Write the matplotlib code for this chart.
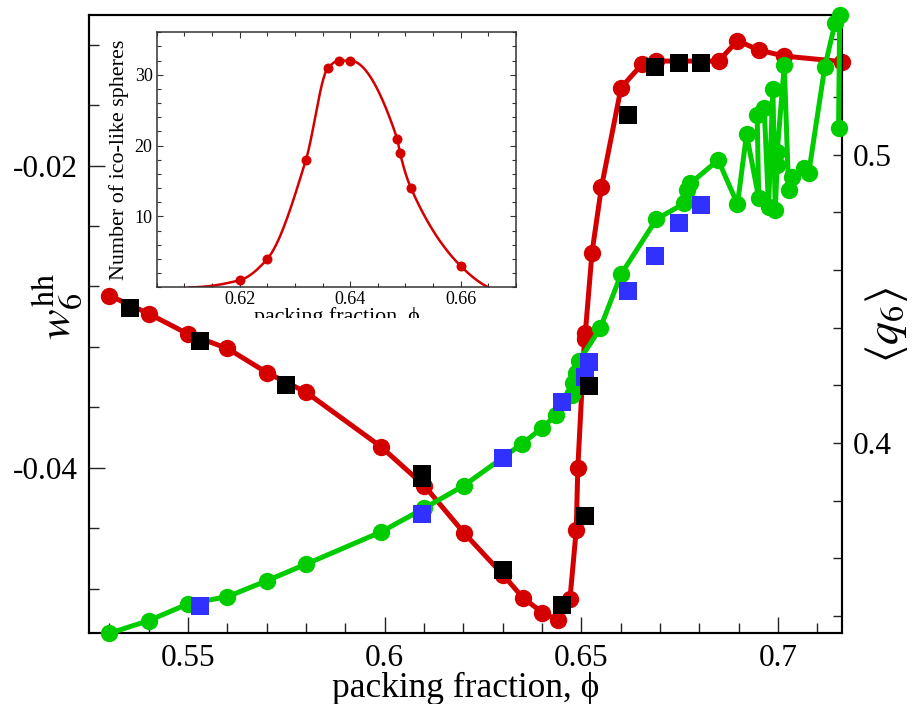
import numpy as np
import matplotlib
matplotlib.use("Agg")
import matplotlib.pyplot as plt
from matplotlib.ticker import MultipleLocator, FixedLocator, FuncFormatter
from matplotlib.transforms import Bbox, TransformedBbox

plt.rcParams['font.family'] = ['Liberation Serif', 'DejaVu Serif']
plt.rcParams['mathtext.fontset'] = 'stix'
plt.rcParams['axes.unicode_minus'] = False

# ---------------- data ----------------
# w6^hh (left axis), red circles with line
red_x = [0.530, 0.540, 0.550, 0.560, 0.570, 0.580, 0.599, 0.6101, 0.6201, 0.6301,
         0.6351, 0.6401, 0.6440, 0.6471, 0.6487, 0.6491, 0.6508, 0.6510, 0.6527,
         0.6551, 0.6601, 0.6654, 0.6691, 0.6849, 0.6897, 0.6951, 0.7016, 0.7163]
red_y = [-0.0286, -0.0298, -0.03115, -0.0321, -0.0337, -0.0350, -0.0386, -0.0412,
         -0.0443, -0.0471, -0.0486, -0.0496, -0.0501, -0.0487, -0.0441, -0.0400,
         -0.0315, -0.0311, -0.02576, -0.02143, -0.01483, -0.01329, -0.01307,
         -0.01307, -0.01172, -0.01234, -0.01274, -0.01311]

# w6^hh (left axis), black squares
black_x = [0.5351, 0.5529, 0.5749, 0.6095, 0.6095, 0.6301, 0.6452, 0.6508, 0.6520,
           0.6619, 0.6688, 0.6749, 0.6803]
black_y = [-0.0294, -0.0316, -0.0345, -0.0404, -0.0407, -0.0468, -0.0491, -0.0432,
           -0.0346, -0.01664, -0.01348, -0.01318, -0.01318]

# <q6> (right axis), green circles with line
green_x = [0.530, 0.540, 0.550, 0.560, 0.570, 0.580, 0.599, 0.6101, 0.6201, 0.635,
           0.6401, 0.6435, 0.6476, 0.6480, 0.6487, 0.6494, 0.6548, 0.6601, 0.6691,
           0.6762, 0.6769, 0.6777, 0.6848, 0.6897, 0.6920, 0.6951, 0.6947, 0.6965,
           0.6976, 0.6987, 0.6993, 0.6998, 0.6998, 0.7016, 0.7027, 0.7036, 0.7065,
           0.7078, 0.7119, 0.7145, 0.7157, 0.7154]
green_y = [0.3340, 0.3384, 0.3442, 0.3467, 0.3522, 0.3580, 0.3691, 0.3774, 0.3852,
           0.3998, 0.4053, 0.4097, 0.4166, 0.4209, 0.4242, 0.4284, 0.4398, 0.4585,
           0.4776, 0.4831, 0.4877, 0.4900, 0.4981, 0.4828, 0.5070, 0.4850, 0.5137,
           0.5160, 0.4819, 0.5229, 0.4808, 0.4964, 0.5010, 0.5309, 0.4877, 0.4923,
           0.4952, 0.4935, 0.5304, 0.5455, 0.5484, 0.5091]

# <q6> (right axis), blue squares
blue_x = [0.5529, 0.6095, 0.6301, 0.6452, 0.6508, 0.6520, 0.6619, 0.6688, 0.6749, 0.6803]
blue_y = [0.3433, 0.3753, 0.3948, 0.4143, 0.4228, 0.4282, 0.4527, 0.4650, 0.4764, 0.4825]

# inset: number of ico-like spheres
inset_x = [0.620, 0.625, 0.632, 0.636, 0.638, 0.640, 0.6485, 0.649, 0.651, 0.660]
inset_y = [1, 4, 18, 31, 32, 32, 21, 19, 14, 3]
# ends of the fitted curve
curve_ends_x = [0.611, 0.665]
curve_ends_y = [0.0, 0.0]

RED = '#d40000'
GREEN = '#00cc00'
BLUE = '#3030ff'
BLACK = '#000000'


def pchip(x, y, xs):
    x = np.asarray(x, float); y = np.asarray(y, float)
    n = len(x)
    h = np.diff(x); d = np.diff(y) / h
    m = np.zeros(n)
    for k in range(1, n - 1):
        if d[k - 1] * d[k] <= 0:
            m[k] = 0.0
        else:
            w1 = 2 * h[k] + h[k - 1]; w2 = h[k] + 2 * h[k - 1]
            m[k] = (w1 + w2) / (w1 / d[k - 1] + w2 / d[k])
    def endp(h0, h1, d0, d1):
        v = ((2 * h0 + h1) * d0 - h0 * d1) / (h0 + h1)
        if np.sign(v) != np.sign(d0):
            v = 0.0
        elif np.sign(d0) != np.sign(d1) and abs(v) > abs(3 * d0):
            v = 3 * d0
        return v
    m[0] = endp(h[0], h[1], d[0], d[1])
    m[-1] = endp(h[-1], h[-2], d[-1], d[-2])
    idx = np.clip(np.searchsorted(x, xs) - 1, 0, n - 2)
    t = (xs - x[idx]) / h[idx]
    h00 = 2 * t**3 - 3 * t**2 + 1; h10 = t**3 - 2 * t**2 + t
    h01 = -2 * t**3 + 3 * t**2; h11 = t**3 - t**2
    return h00 * y[idx] + h10 * h[idx] * m[idx] + h01 * y[idx + 1] + h11 * h[idx] * m[idx + 1]


W, H = 913, 704
fig = plt.figure(figsize=(W / 100, H / 100), dpi=100)
L, R, T, B = 89, 841.7, 15, 633
ax = fig.add_axes([L / W, 1 - B / H, (R - L) / W, (B - T) / H])
ax2 = ax.twinx()

ax.set_xlim(0.5248, 0.7162)
ax.set_ylim(-0.050947, -0.01002)
ax2.set_ylim(0.3341, 0.5484)

ax.plot(red_x, red_y, '-o', color=RED, lw=3.6, ms=12.5, mew=0, zorder=2, clip_on=False)
ax.plot(black_x, black_y, 's', color=BLACK, ms=12.6, mew=0, zorder=5, clip_on=False)
ax.set_zorder(1)
ax.patch.set_visible(False)
ax2.set_zorder(0)

# green and blue belong to the right axis; drawn with its transform so they sit above red
tr = ax2.transData
ax.plot(green_x, green_y, '-o', color=GREEN, lw=3.6, ms=12.5, mew=0, zorder=3,
        clip_on=False, transform=tr)
ax.plot(blue_x, blue_y, 's', color=BLUE, ms=12.6, mew=0, zorder=4, clip_on=False,
        transform=tr)

fs_tick = 22.5
tick_col = '#222222'
for a in (ax, ax2):
    for s in a.spines.values():
        s.set_linewidth(1.5)
        s.set_color('black')

ax.xaxis.set_major_locator(MultipleLocator(0.05))
ax.xaxis.set_minor_locator(MultipleLocator(0.01))
ax.xaxis.set_major_formatter(FuncFormatter(lambda v, p: ('%g' % round(v, 4))))
ax.yaxis.set_major_locator(FixedLocator([-0.04, -0.02]))
ax.yaxis.set_minor_locator(MultipleLocator(0.004))
ax.yaxis.set_major_formatter(FuncFormatter(lambda v, p: ('%.2f' % v)))
ax2.yaxis.set_major_locator(FixedLocator([0.4, 0.5]))
ax2.yaxis.set_minor_locator(MultipleLocator(0.02))
ax2.yaxis.set_major_formatter(FuncFormatter(lambda v, p: ('%g' % round(v, 3))))

ax.tick_params(axis='both', which='both', direction='in', top=False, right=False,
               color=tick_col, labelsize=fs_tick, width=1.0)
ax.tick_params(axis='x', which='major', length=11.5, pad=8)
ax.tick_params(axis='x', which='minor', length=7)
ax.tick_params(axis='y', which='major', length=11.5, pad=8)
ax.tick_params(axis='y', which='minor', length=7.5)
ax2.tick_params(axis='y', which='both', direction='in', left=False, right=True,
                color=tick_col, labelsize=fs_tick, width=1.0, length=6.5, pad=8)

# axis labels
fig.text(466 / W, 1 - 688 / H, 'packing fraction, ϕ', fontsize=25.5,
         ha='center', va='center')
fig.text(56.7 / W, 1 - 306.7 / H, r'$w_6^{\rm hh}$', fontsize=33, rotation=90,
         ha='center', va='center')
fig.text(886 / W, 1 - 325 / H, r'$\langle q_6 \rangle$', fontsize=33, rotation=90,
         ha='center', va='center')

# ---------------- inset ----------------
iL, iR, iT, iB = 156.7, 516, 32.3, 287.3
axi = fig.add_axes([iL / W, 1 - iB / H, (iR - iL) / W, (iB - iT) / H], zorder=10)
axi.set_xlim(0.605, 0.67)
axi.set_ylim(0, 36)
cx = np.concatenate([[curve_ends_x[0]], inset_x, [curve_ends_x[1]]])
cy = np.concatenate([[curve_ends_y[0]], inset_y, [curve_ends_y[1]]])
xs = np.linspace(cx[0], cx[-1], 600)
axi.plot(xs, pchip(cx, cy, xs), color=RED, lw=1.8, clip_on=True)
axi.plot(inset_x, inset_y, 'o', color=RED, ms=7.2, mew=0)
for s in axi.spines.values():
    s.set_linewidth(1.1)
    s.set_color('#333333')
axi.xaxis.set_major_locator(FixedLocator([0.62, 0.64, 0.66]))
axi.xaxis.set_minor_locator(MultipleLocator(0.005))
axi.yaxis.set_major_locator(FixedLocator([10, 20, 30]))
axi.yaxis.set_minor_locator(MultipleLocator(2))
axi.xaxis.set_major_formatter(FuncFormatter(lambda v, p: '%.2f' % v))
axi.yaxis.set_major_formatter(FuncFormatter(lambda v, p: '%d' % v))
axi.tick_params(which='both', direction='in', top=True, right=True, labelsize=13,
                color='#333333', width=0.8, pad=3)
axi.tick_params(which='major', length=4.2)
axi.tick_params(which='minor', length=2.6)

fig.text(119 / W, 1 - 160 / H, 'Number of ico-like spheres', fontsize=15.8,
         rotation=90, ha='center', va='center')
t = fig.text(336.5 / W, 1 - 307 / H, 'packing fraction, ϕ', fontsize=15.8,
             ha='center', va='top')
t.set_clip_box(TransformedBbox(Bbox.from_extents(0, 1 - 318 / H, 1, 1), fig.transFigure))
t.set_clip_on(True)

fig.savefig('out.png', dpi=100)
